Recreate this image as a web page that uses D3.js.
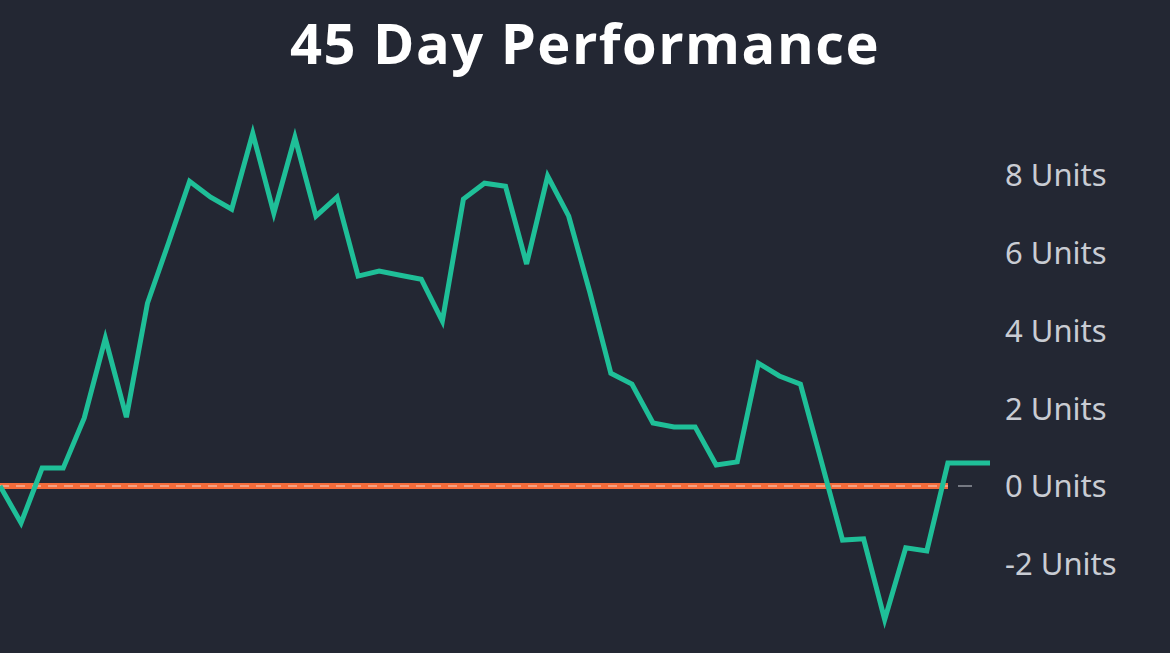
<!DOCTYPE html>
<html><head><meta charset="utf-8">
<script src="https://cdn.jsdelivr.net/npm/d3@7"></script>
<style>html,body{margin:0;padding:0;background:#232733;}</style>
</head><body>
<svg id="c" width="1170" height="653"></svg>
<script>
const values = [0,-0.95,0.46,0.46,1.75,3.8,1.77,4.7,6.25,7.84,7.43,7.12,9.07,7.02,8.97,6.94,7.43,5.4,5.53,5.42,5.32,4.24,7.38,7.79,7.71,5.71,7.97,6.94,4.99,2.9,2.62,1.62,1.52,1.52,0.54,0.62,3.16,2.83,2.62,0.62,-1.39,-1.36,-3.44,-1.59,-1.67,0.59,0.59,0.59];
const tickValues = [-2,0,2,4,6,8];
const tickLabels = ["-2 Units","0 Units","2 Units","4 Units","6 Units","8 Units"];
const title = "45 Day Performance";

const svg = d3.select("#c");
svg.append("rect").attr("width",1170).attr("height",653).attr("fill","#232733");
const x = d3.scaleLinear().domain([0, values.length-1]).range([0, 990]);
const y = d3.scaleLinear().domain([0, 8]).range([486, 175]);

svg.append("text").attr("x",585).attr("y",64).attr("text-anchor","middle")
  .attr("fill","#ffffff").attr("font-family","'Open Sans', sans-serif").attr("font-weight",700)
  .attr("font-size",56).attr("letter-spacing",1.5).text(title);

const axis = d3.axisRight(y).tickValues(tickValues).tickFormat((d,i)=>tickLabels[i]).tickSize(0).tickPadding(0);
const g = svg.append("g").attr("transform","translate(1005,0)").call(axis);
g.select(".domain").remove();
g.selectAll("text").attr("fill","#c9ccd3").attr("font-family","'Noto Sans', sans-serif").attr("font-size",31).attr("dy","0.35em");

svg.append("line").attr("x1",958).attr("x2",972).attr("y1",y(0)).attr("y2",y(0)).attr("stroke","#c9ccd3").attr("stroke-width",1);

svg.append("line").attr("x1",0).attr("x2",948).attr("y1",y(0)).attr("y2",y(0))
  .attr("stroke","#f26b3a").attr("stroke-width",6);
svg.append("line").attr("x1",0).attr("x2",948).attr("y1",y(0)).attr("y2",y(0))
  .attr("stroke","#f3d6c8").attr("stroke-width",1).attr("stroke-dasharray","9,7");

svg.append("path").datum(values)
  .attr("d", d3.line().x((d,i)=>x(i)).y(d=>y(d)))
  .attr("fill","none").attr("stroke","#1fbf98").attr("stroke-width",5).attr("stroke-linejoin","miter");
</script>
</body></html>
